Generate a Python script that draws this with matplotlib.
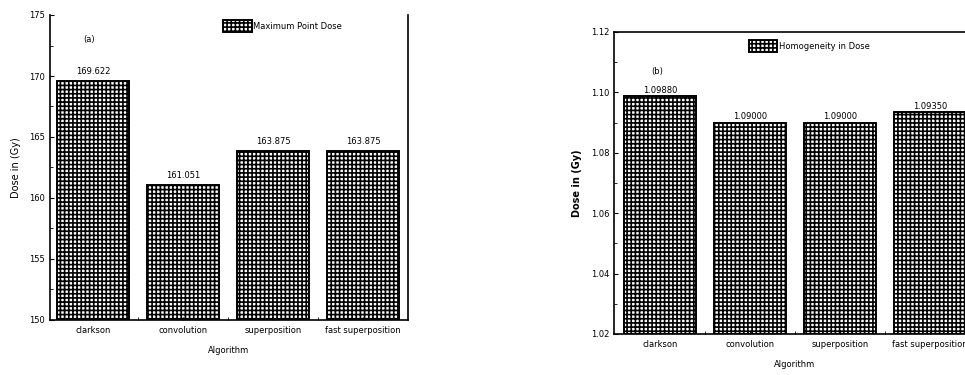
import matplotlib
matplotlib.use("Agg")
import matplotlib.pyplot as plt
from matplotlib.ticker import MultipleLocator, FixedLocator

categories = ["clarkson", "convolution", "superposition", "fast superposition"]
left_values = [169.622, 161.051, 163.875, 163.875]
left_labels = ["169.622", "161.051", "163.875", "163.875"]
right_values = [1.0988, 1.0900, 1.0900, 1.0935]
right_labels = ["1.09880", "1.09000", "1.09000", "1.09350"]
left_ticks = [150, 155, 160, 165, 170, 175]
right_ticks = [1.02, 1.04, 1.06, 1.08, 1.10, 1.12]

plt.rcParams["hatch.linewidth"] = 1.2
plt.rcParams["font.family"] = ["DejaVu Sans"]

W, H = 965, 375
fig = plt.figure(figsize=(W / 100, H / 100), dpi=100)

def px_axes(x0, x1, ytop, ybot):
    return fig.add_axes([x0 / W, (H - ybot) / H, (x1 - x0) / W, (ybot - ytop) / H])

x = list(range(1, len(categories) + 1))

# ---------- left panel ----------
ax1 = px_axes(50, 408, 15, 320)
ax1.bar(x, [v - 150 for v in left_values], bottom=150, width=0.8, color="white",
        edgecolor="black", hatch="++++", linewidth=1.4, label="Maximum Point Dose")
for xi, v, s in zip(x, left_values, left_labels):
    ax1.text(xi, v + 0.4, s, ha="center", va="bottom", fontsize=6)
ax1.set_xlim(0.52, 4.5)
ax1.set_ylim(150, 175)
ax1.yaxis.set_major_locator(FixedLocator(left_ticks))
ax1.yaxis.set_minor_locator(MultipleLocator(2.5))
ax1.set_xticks(x)
ax1.set_xticklabels(categories, fontsize=6)
ax1.xaxis.set_minor_locator(FixedLocator([1.5, 2.5, 3.5]))
ax1.tick_params(axis="y", labelsize=6, direction="in", length=3)
ax1.tick_params(axis="y", which="minor", direction="in", length=2)
ax1.tick_params(axis="x", which="both", direction="in", length=2, pad=4)
ax1.spines["top"].set_visible(False)
for s in ["left", "right", "bottom"]:
    ax1.spines[s].set_linewidth(1.2)
ax1.set_ylabel("Dose in (Gy)", fontsize=7, labelpad=6)
ax1.set_xlabel("Algorithm", fontsize=6, labelpad=8)
ax1.text(0.11, 0.92, "(a)", transform=ax1.transAxes, fontsize=6, ha="center", va="center")
ax1.legend(loc="upper left", bbox_to_anchor=(0.47, 1.0), frameon=False, fontsize=6,
           handlelength=3.4, handleheight=1.8, handletextpad=0.2, borderaxespad=0.2)

# ---------- right panel ----------
ax2 = px_axes(614, 975, 32, 334)
ax2.bar(x, [v - 1.02 for v in right_values], bottom=1.02, width=0.8, color="white",
        edgecolor="black", hatch="++++", linewidth=1.4, label="Homogeneity in Dose")
for xi, v, s in zip(x, right_values, right_labels):
    ax2.text(xi, v + 0.0005, s, ha="center", va="bottom", fontsize=6)
ax2.set_xlim(0.49, 4.5)
ax2.set_ylim(1.02, 1.12)
ax2.yaxis.set_major_locator(FixedLocator(right_ticks))
ax2.yaxis.set_minor_locator(MultipleLocator(0.01))
ax2.set_xticks(x)
ax2.set_xticklabels(categories, fontsize=6)
ax2.xaxis.set_minor_locator(FixedLocator([1.5, 2.5, 3.5]))
ax2.tick_params(axis="y", labelsize=6, direction="in", length=3)
ax2.tick_params(axis="y", which="minor", direction="in", length=2)
ax2.tick_params(axis="x", which="both", direction="in", length=2, pad=4)
for s in ["left", "right", "bottom", "top"]:
    ax2.spines[s].set_linewidth(1.2)
ax2.set_ylabel("Dose in (Gy)", fontsize=7, fontweight="bold", labelpad=6)
ax2.set_xlabel("Algorithm", fontsize=6, labelpad=8)
ax2.text(0.12, 0.87, "(b)", transform=ax2.transAxes, fontsize=6, ha="center", va="center")
ax2.legend(loc="upper left", bbox_to_anchor=(0.36, 0.99), frameon=False, fontsize=6,
           handlelength=3.4, handleheight=1.8, handletextpad=0.2, borderaxespad=0.2)

fig.savefig("out.png", dpi=100)
